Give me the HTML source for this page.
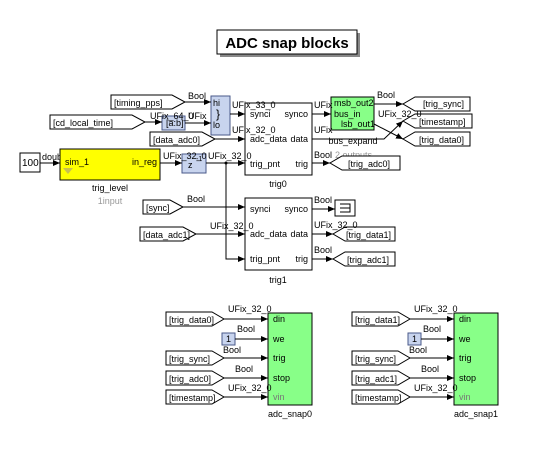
<!DOCTYPE html>
<html><head><style>
body{margin:0;background:#fff}
svg{display:block}
text{font-family:"Liberation Sans",sans-serif;font-size:9px;fill:#000}
.b{fill:#fff;stroke:#000;stroke-width:1}
.l{stroke:#000;stroke-width:1;fill:none}
.g{fill:#88ff88;stroke:#000}
.c{fill:#c8d4ee;stroke:#4a5a8a}
</style></head><body>
<svg width="558" height="451" viewBox="0 0 558 451">
<defs><marker id="a" markerWidth="7" markerHeight="6" refX="7" refY="3" orient="auto" markerUnits="userSpaceOnUse"><path d="M0,0L7,3L0,6z" fill="#000"/></marker></defs>
<rect x="220" y="33" width="140" height="24" fill="#888"/>
<rect x="217" y="30" width="140" height="24" class="b"/>
<text x="287" y="48" text-anchor="middle" style="font-size:15px;font-weight:bold">ADC snap blocks</text>

<g class="b">
<path d="M111,95H172L185,102L172,109H111Z"/>
<path d="M50,115H132L145,122L132,129H50Z"/>
<path d="M150,132H202L215,139L202,146H150Z"/>
<path d="M143,200H170L183,207L170,214H143Z"/>
<path d="M140,227H183L196,234L183,241H140Z"/>
</g>
<text x="114" y="106">[timing_pps]</text>
<text x="53" y="126">[cd_local_time]</text>
<text x="153" y="143">[data_adc0]</text>
<text x="146" y="211">[sync]</text>
<text x="143" y="238">[data_adc1]</text>

<rect x="20" y="153" width="20" height="19" class="b"/>
<text x="22" y="166" style="font-size:10px">100</text>
<text x="42" y="160">doubl</text>
<rect x="60" y="149" width="100" height="31" fill="#ffff00" stroke="#000"/>
<text x="65" y="165">sim_1</text><text x="132" y="165">in_reg</text>
<text x="110" y="191" text-anchor="middle">trig_level</text>
<text x="110" y="204" text-anchor="middle" style="fill:#999">1input</text>
<path d="M63,168h10l-5,6z" fill="#c8c050"/>

<rect x="182" y="154" width="24" height="19" class="c"/>
<text x="188" y="168">z</text><text x="196" y="161" style="font-size:7px">-1</text>
<rect x="162" y="116" width="23" height="14" class="c"/>
<text x="166" y="126">[a:b]</text>
<rect x="211" y="96" width="19" height="39" class="c"/>
<text x="213" y="106">hi</text><text x="213" y="128">lo</text>
<text x="216" y="118" style="font-size:12px">}</text>

<rect x="245" y="103" width="67" height="72" class="b"/>
<text x="250" y="117">synci</text><text x="250" y="142">adc_data</text><text x="250" y="167">trig_pnt</text>
<text x="308" y="117" text-anchor="end">synco</text><text x="308" y="142" text-anchor="end">data</text><text x="308" y="167" text-anchor="end">trig</text>
<text x="278" y="187" text-anchor="middle">trig0</text>
<rect x="245" y="198" width="67" height="72" class="b"/>
<text x="250" y="212">synci</text><text x="250" y="237">adc_data</text><text x="250" y="262">trig_pnt</text>
<text x="308" y="212" text-anchor="end">synco</text><text x="308" y="237" text-anchor="end">data</text><text x="308" y="262" text-anchor="end">trig</text>
<text x="278" y="283" text-anchor="middle">trig1</text>

<rect x="331" y="97" width="43" height="33" class="g"/>
<text x="334" y="106">msb_out2</text><text x="334" y="117">bus_in</text><text x="341" y="127">lsb_out1</text>
<text x="353" y="144" text-anchor="middle">bus_expand</text>
<text x="335" y="158" style="fill:#999">2 outputs</text>

<rect x="335" y="200" width="20" height="16" class="b"/>
<path d="M340,204h10v8h-10M340,208h10" class="l"/>

<g class="b">
<path d="M415,97H470V111H415L403,104Z"/>
<path d="M415,114H472V128H415L403,121Z"/>
<path d="M415,132H470V146H415L403,139Z"/>
<path d="M342,156H400V170H342L330,163Z"/>
<path d="M345,227H395V241H345L333,234Z"/>
<path d="M345,252H395V266H345L333,259Z"/>
</g>
<text x="423" y="107">[trig_sync]</text>
<text x="419" y="125">[timestamp]</text>
<text x="419" y="143">[trig_data0]</text>
<text x="348" y="167">[trig_adc0]</text>
<text x="346" y="238">[trig_data1]</text>
<text x="347" y="263">[trig_adc1]</text>

<g class="l" marker-end="url(#a)">
<path d="M185,102H211"/>
<path d="M145,122H162"/>
<path d="M185,123H211"/>
<path d="M230,114H245"/>
<path d="M215,139H245"/>
<path d="M40,163H60"/>
<path d="M160,163H182"/>
<path d="M206,163H245"/>
<path d="M226,163V259H245"/>
<path d="M183,207H245"/>
<path d="M196,234H245"/>
<path d="M312,114H331"/>
<path d="M374,104H403"/>
<path d="M374,124L403,139"/>
<path d="M312,139H384L403,121"/>
<path d="M312,163H330"/>
<path d="M312,209H335"/>
<path d="M312,234H333"/>
<path d="M312,259H333"/>
</g>
<circle cx="226" cy="163" r="1.5"/>
<text x="188" y="99">Bool</text>
<text x="150" y="119">UFix_64_0</text>
<text x="188" y="119">UFix</text>
<text x="232" y="108">UFix_33_0</text>
<text x="232" y="133">UFix_32_0</text>
<text x="163" y="159">UFix_32_0</text>
<text x="208" y="159">UFix_32_0</text>
<text x="187" y="202">Bool</text>
<text x="210" y="229">UFix_32_0</text>
<text x="314" y="108">UFix</text>
<text x="314" y="133">UFix</text>
<text x="314" y="158">Bool</text>
<text x="377" y="98">Bool</text>
<text x="378" y="117">UFix_32_0</text>
<text x="314" y="203">Bool</text>
<text x="314" y="228">UFix_32_0</text>
<text x="314" y="253">Bool</text>

<g>
<rect x="268" y="313" width="44" height="92" class="g"/>
<text x="273" y="322">din</text><text x="273" y="342">we</text><text x="273" y="361">trig</text><text x="273" y="381">stop</text><text x="273" y="400" style="fill:#777">vin</text>
<g class="b">
<path d="M166,312H212L224,319L212,326H166Z"/>
<path d="M166,351H212L224,358L212,365H166Z"/>
<path d="M166,371H212L224,378L212,385H166Z"/>
<path d="M166,390H212L224,397L212,404H166Z"/>
</g>
<rect x="222" y="333" width="13" height="12" class="c"/>
<text x="226" y="342">1</text>
<g class="l" marker-end="url(#a)">
<path d="M224,319H268"/><path d="M235,339H268"/><path d="M224,358H268"/><path d="M224,378H268"/><path d="M224,397H268"/>
</g>
<text x="228" y="312">UFix_32_0</text><text x="237" y="332">Bool</text><text x="223" y="353">Bool</text><text x="235" y="372">Bool</text><text x="228" y="391">UFix_32_0</text>
</g>
<text x="290" y="417" text-anchor="middle">adc_snap0</text>
<g transform="translate(186,0)">
<rect x="268" y="313" width="44" height="92" class="g"/>
<text x="273" y="322">din</text><text x="273" y="342">we</text><text x="273" y="361">trig</text><text x="273" y="381">stop</text><text x="273" y="400" style="fill:#777">vin</text>
<g class="b">
<path d="M166,312H212L224,319L212,326H166Z"/>
<path d="M166,351H212L224,358L212,365H166Z"/>
<path d="M166,371H212L224,378L212,385H166Z"/>
<path d="M166,390H212L224,397L212,404H166Z"/>
</g>
<rect x="222" y="333" width="13" height="12" class="c"/>
<text x="226" y="342">1</text>
<g class="l" marker-end="url(#a)">
<path d="M224,319H268"/><path d="M235,339H268"/><path d="M224,358H268"/><path d="M224,378H268"/><path d="M224,397H268"/>
</g>
<text x="228" y="312">UFix_32_0</text><text x="237" y="332">Bool</text><text x="223" y="353">Bool</text><text x="235" y="372">Bool</text><text x="228" y="391">UFix_32_0</text>
<text x="290" y="417" text-anchor="middle">adc_snap1</text>
</g>
<text x="169" y="323">[trig_data0]</text><text x="169" y="362">[trig_sync]</text><text x="169" y="382">[trig_adc0]</text><text x="169" y="401">[timestamp]</text>
<text x="355" y="323">[trig_data1]</text><text x="355" y="362">[trig_sync]</text><text x="355" y="382">[trig_adc1]</text><text x="355" y="401">[timestamp]</text>
</svg>
</body></html>
